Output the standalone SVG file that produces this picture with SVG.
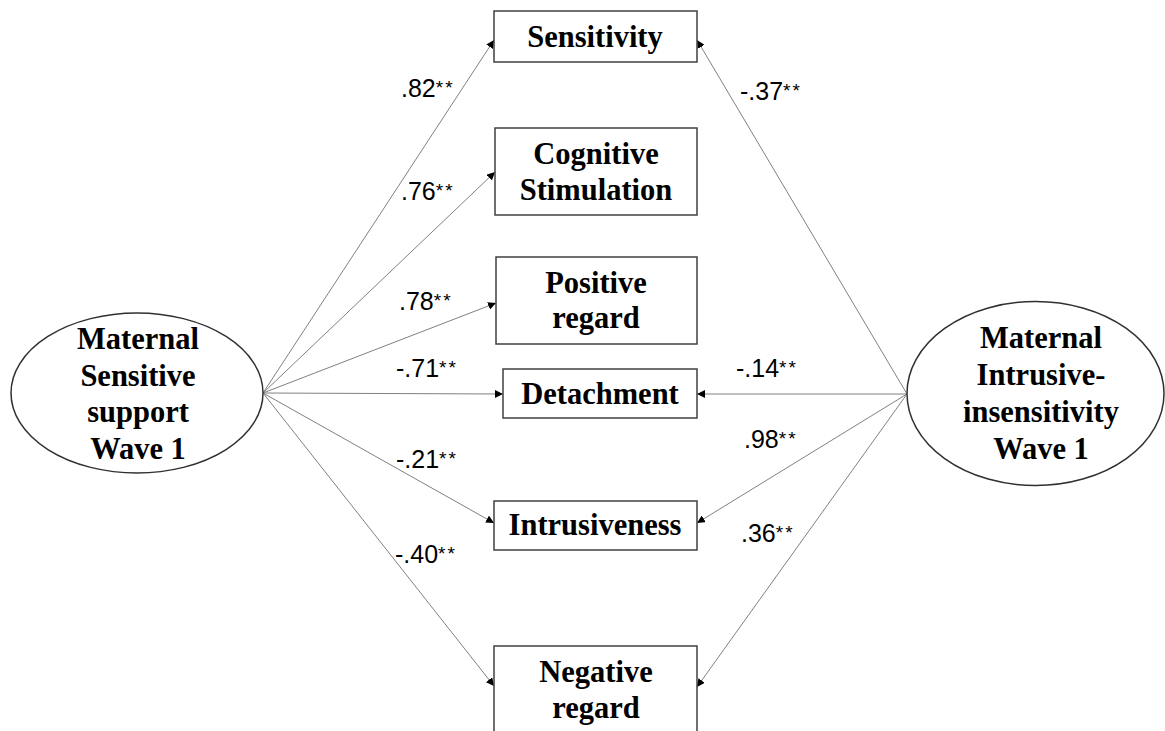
<svg xmlns="http://www.w3.org/2000/svg" width="1165" height="731" viewBox="0 0 1165 731">
<defs>
<style>
.box{fill:#fff;stroke:#404040;stroke-width:1.5}
.ell{fill:#fff;stroke:#303030;stroke-width:1.5}
.nt{font-family:"Liberation Serif","Times New Roman",serif;font-weight:bold;font-size:30.5px;fill:#000;text-anchor:middle}
.lbl{font-family:"Liberation Sans",Arial,sans-serif;font-size:25px;fill:#000}
.st{font-size:19px;letter-spacing:2px}
.con line{stroke:#808080;stroke-width:1;marker-end:url(#ah)}
</style>
<marker id="ah" viewBox="0 0 10 10" refX="10" refY="5" markerWidth="8" markerHeight="8" markerUnits="userSpaceOnUse" orient="auto">
<path d="M0,0 L10,5 L0,10 Z" fill="#000"/>
</marker>
</defs>
<rect width="1165" height="731" fill="#fff"/>
<g class="con" id="connectors">
<line x1="263" y1="393" x2="494" y2="40"/>
<line x1="263" y1="393" x2="495" y2="172"/>
<line x1="263" y1="393" x2="496" y2="303"/>
<line x1="263" y1="393" x2="503" y2="394"/>
<line x1="263" y1="393" x2="494" y2="523"/>
<line x1="263" y1="393" x2="494" y2="686"/>
<line x1="907" y1="394" x2="697" y2="40"/>
<line x1="907" y1="394" x2="697" y2="394"/>
<line x1="907" y1="394" x2="697" y2="523"/>
<line x1="907" y1="394" x2="697" y2="687"/>
</g>
<g id="labels">
<text class="lbl" x="401" y="97">.82<tspan class="st" dy="-3">**</tspan></text>
<text class="lbl" x="401" y="200">.76<tspan class="st" dy="-3">**</tspan></text>
<text class="lbl" x="399" y="310">.78<tspan class="st" dy="-3">**</tspan></text>
<text class="lbl" x="396" y="377">-.71<tspan class="st" dy="-3">**</tspan></text>
<text class="lbl" x="396" y="468">-.21<tspan class="st" dy="-3">**</tspan></text>
<text class="lbl" x="395" y="563">-.40<tspan class="st" dy="-3">**</tspan></text>
<text class="lbl" x="740" y="100">-.37<tspan class="st" dy="-3">**</tspan></text>
<text class="lbl" x="736" y="377">-.14<tspan class="st" dy="-3">**</tspan></text>
<text class="lbl" x="744" y="448">.98<tspan class="st" dy="-3">**</tspan></text>
<text class="lbl" x="741" y="542">.36<tspan class="st" dy="-3">**</tspan></text>
</g>
<g id="sensitivity">
<rect class="box" x="494" y="11" width="203" height="51"/>
<text class="nt" x="595" y="47">Sensitivity</text>
</g>
<g id="cognitive">
<rect class="box" x="495" y="128" width="202" height="87"/>
<text class="nt" x="596" y="164">Cognitive</text>
<text class="nt" x="596" y="200">Stimulation</text>
</g>
<g id="positive">
<rect class="box" x="496" y="257" width="201" height="87"/>
<text class="nt" x="596" y="293">Positive</text>
<text class="nt" x="596" y="328">regard</text>
</g>
<g id="detachment">
<rect class="box" x="503" y="369" width="194" height="49"/>
<text class="nt" x="600" y="404">Detachment</text>
</g>
<g id="intrusiveness">
<rect class="box" x="494" y="501" width="203" height="49"/>
<text class="nt" x="595" y="535">Intrusiveness</text>
</g>
<g id="negative">
<rect class="box" x="494" y="646" width="203" height="95"/>
<text class="nt" x="596" y="682">Negative</text>
<text class="nt" x="596" y="718">regard</text>
</g>
<g id="sensitive-support">
<ellipse class="ell" cx="137" cy="393" rx="126" ry="80"/>
<text class="nt" x="138" y="349">Maternal</text>
<text class="nt" x="138" y="386">Sensitive</text>
<text class="nt" x="138" y="422">support</text>
<text class="nt" x="138" y="459">Wave 1</text>
</g>
<g id="intrusive-insensitivity">
<ellipse class="ell" cx="1035.5" cy="393.5" rx="128.5" ry="92"/>
<text class="nt" x="1041" y="348">Maternal</text>
<text class="nt" x="1041" y="385">Intrusive-</text>
<text class="nt" x="1041" y="422">insensitivity</text>
<text class="nt" x="1041" y="459">Wave 1</text>
</g>
</svg>
